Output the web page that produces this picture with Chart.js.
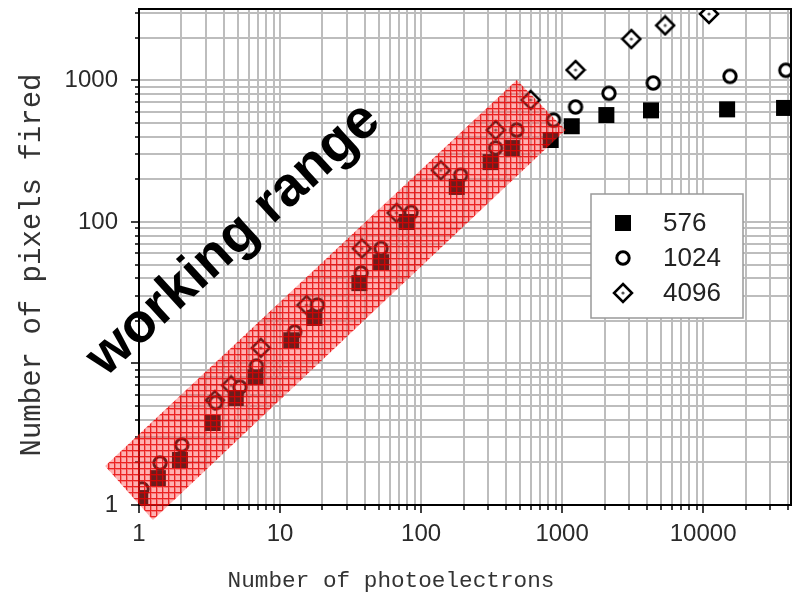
<!DOCTYPE html>
<html>
<head>
<meta charset="utf-8">
<script src="https://cdn.jsdelivr.net/npm/chart.js@4.4.1/dist/chart.umd.min.js"></script>
<style>
  html, body { margin: 0; padding: 0; background: #fff; }
</style>
</head>
<body>
<canvas id="chart" width="800" height="598"></canvas>
<script>
// Photoelectrons (x) vs pixels fired (y)
const x576 = [1.02, 1.36, 1.95, 3.33, 4.85, 6.7, 12.0, 17.5, 36.5, 52, 79, 179, 311, 440, 830, 1170, 2060, 4270, 14800, 37500];
const y576 = [1.12, 1.55, 2.08, 3.8, 5.7, 8.0, 14.6, 21, 37, 52, 100, 177, 265, 333, 380, 475, 570, 615, 625, 640];

const x1024 = [1.05, 1.41, 2.01, 3.5, 5.2, 6.8, 12.7, 18.4, 37.6, 52, 85, 191, 338, 477, 870, 1245, 2150, 4430, 15500, 38600];
const y1024 = [1.30, 1.98, 2.65, 5.3, 6.8, 9.6, 16.7, 25.9, 43.6, 65, 117, 214, 333, 446, 525, 650, 812, 960, 1070, 1180];

const x4096 = [3.45, 4.5, 7.3, 15.4, 38, 67, 138, 338, 598, 1245, 3100, 5380, 11000];
const y4096 = [5.5, 7.0, 12.9, 25.9, 65, 116, 232, 446, 728, 1186, 1964, 2450, 2950];

const seriesNames = ['576', '1024', '4096'];

// Axis ranges and labelled ticks
const xMin = 1, xMax = 42000;
const yMin = 1, yMax = 3200;
const xTickLabels = [1, 10, 100, 1000, 10000];
const yTickLabels = [1, 100, 1000];

// "working range" band corners (data coords) and label anchor
const bandX = [0.575, 1.256, 1059, 477];
const bandY = [1.886, 0.783, 447, 1009];
const labelX = 4.7, labelY = 75;

function logSteps(min, max) {
  const out = [];
  for (let d = 1; d <= max; d *= 10) {
    for (let m = 1; m < 10; m++) {
      const v = m * d;
      if (v >= min && v <= max) out.push(v);
    }
  }
  return out;
}

function makeMarker(kind) {
  const c = document.createElement('canvas');
  c.width = c.height = 22;
  const g = c.getContext('2d');
  g.translate(11, 11);
  if (kind === 'square') {
    g.fillStyle = '#000';
    g.fillRect(-8, -8, 16, 16);
  } else if (kind === 'circle') {
    g.beginPath();
    g.arc(0, 0, 6.2, 0, Math.PI * 2);
    g.fillStyle = '#fff';
    g.fill();
    g.lineWidth = 3;
    g.strokeStyle = '#000';
    g.stroke();
  } else {
    g.beginPath();
    g.moveTo(0, -9); g.lineTo(9, 0); g.lineTo(0, 9); g.lineTo(-9, 0);
    g.closePath();
    g.fillStyle = '#fff';
    g.fill();
    g.lineWidth = 2.5;
    g.strokeStyle = '#000';
    g.stroke();
    g.beginPath();
    g.arc(0, 0, 1.6, 0, Math.PI * 2);
    g.fillStyle = '#555';
    g.fill();
  }
  return c;
}

function makeHatch() {
  const c = document.createElement('canvas');
  c.width = c.height = 6;
  const g = c.getContext('2d');
  g.fillStyle = 'rgba(255,70,70,0.42)';
  g.fillRect(0, 0, 6, 6);
  g.fillStyle = 'rgba(230,0,0,0.8)';
  g.fillRect(0, 0, 6, 1);
  g.fillRect(0, 1, 1, 5);
  g.fillStyle = 'rgba(230,0,0,0.3)';
  g.fillRect(1, 1, 5, 1);
  g.fillRect(1, 2, 1, 4);
  return c;
}

const markers = [makeMarker('square'), makeMarker('circle'), makeMarker('diamond')];

function toPoints(xs, ys) {
  return xs.map((x, i) => ({ x, y: ys[i] }));
}

const overlay = {
  id: 'overlay',
  afterDatasetsDraw(chart) {
    const { ctx, chartArea: a, scales: { x, y } } = chart;
    ctx.save();

    // tick marks
    ctx.strokeStyle = '#000';
    ctx.lineWidth = 1.5;
    logSteps(xMin, xMax).forEach(v => {
      const px = Math.round(x.getPixelForValue(v));
      const len = xTickLabels.includes(v) ? 8 : 5;
      ctx.beginPath();
      ctx.moveTo(px, a.bottom);
      ctx.lineTo(px, a.bottom + len);
      ctx.stroke();
    });
    logSteps(yMin, yMax).forEach(v => {
      const py = Math.round(y.getPixelForValue(v));
      const len = [1, 10, 100, 1000].includes(v) ? 8 : 4;
      ctx.beginPath();
      ctx.moveTo(a.left, py);
      ctx.lineTo(a.left - len, py);
      ctx.stroke();
    });

    // frame
    ctx.lineWidth = 2;
    ctx.strokeRect(a.left, a.top, a.right - a.left, a.bottom - a.top);

    // working range band
    ctx.beginPath();
    bandX.forEach((bx, i) => {
      const px = x.getPixelForValue(bx);
      const py = y.getPixelForValue(bandY[i]);
      if (i === 0) ctx.moveTo(px, py); else ctx.lineTo(px, py);
    });
    ctx.closePath();
    ctx.fillStyle = ctx.createPattern(makeHatch(), 'repeat');
    ctx.fill();

    // band label
    ctx.save();
    ctx.translate(x.getPixelForValue(labelX), y.getPixelForValue(labelY));
    ctx.rotate(-42.5 * Math.PI / 180);
    ctx.font = 'bold 55px "Liberation Sans", Arial, sans-serif';
    ctx.fillStyle = '#000';
    ctx.textAlign = 'center';
    ctx.textBaseline = 'middle';
    ctx.fillText('working range', 0, 0);
    ctx.restore();

    // legend box
    const lx = 591, ly = 194, lw = 152, lh = 124;
    ctx.fillStyle = '#fff';
    ctx.fillRect(lx, ly, lw, lh);
    ctx.strokeStyle = '#999';
    ctx.lineWidth = 1.5;
    ctx.strokeRect(lx, ly, lw, lh);
    ctx.font = '26px "Liberation Sans", Arial, sans-serif';
    ctx.fillStyle = '#222';
    ctx.textAlign = 'left';
    ctx.textBaseline = 'middle';
    seriesNames.forEach((name, i) => {
      const cy = 223 + i * 35;
      const m = markers[i];
      ctx.drawImage(m, 623 - m.width / 2, cy - m.height / 2);
      ctx.fillText(name, 663, cy + 1);
    });

    // axis titles
    ctx.fillStyle = '#333';
    ctx.textAlign = 'center';
    ctx.font = '22.7px "Liberation Mono", "Courier New", monospace';
    ctx.fillText('Number of photoelectrons', 391, 581);
    ctx.save();
    ctx.translate(32, 265);
    ctx.rotate(-Math.PI / 2);
    ctx.font = '29px "Liberation Mono", "Courier New", monospace';
    ctx.fillText('Number of pixels fired', 0, 0);
    ctx.restore();

    ctx.restore();
  }
};

const tickFont = { family: '"Liberation Sans", Arial, sans-serif', size: 24 };

new Chart(document.getElementById('chart'), {
  type: 'scatter',
  data: {
    datasets: [
      { label: seriesNames[0], data: toPoints(x576, y576), pointStyle: markers[0], pointRadius: 8 },
      { label: seriesNames[1], data: toPoints(x1024, y1024), pointStyle: markers[1], pointRadius: 8 },
      { label: seriesNames[2], data: toPoints(x4096, y4096), pointStyle: markers[2], pointRadius: 8 }
    ]
  },
  options: {
    responsive: false,
    animation: false,
    layout: { padding: { left: 0, right: 7, top: 9, bottom: 0 } },
    plugins: { legend: { display: false }, tooltip: { enabled: false } },
    scales: {
      x: {
        type: 'logarithmic',
        min: xMin,
        max: xMax,
        afterBuildTicks: s => { s.ticks = logSteps(xMin, xMax).map(v => ({ value: v })); },
        afterFit: s => {
          s.height = 93;
          s.paddingLeft = s.paddingRight = s.paddingTop = s.paddingBottom = 0;
        },
        grid: { color: '#bdbdbd', lineWidth: 2, drawTicks: false },
        border: { display: false },
        ticks: {
          autoSkip: false,
          maxRotation: 0,
          padding: 15,
          color: '#2a2a2a',
          font: tickFont,
          callback: v => xTickLabels.includes(v) ? String(v) : ''
        }
      },
      y: {
        type: 'logarithmic',
        min: yMin,
        max: yMax,
        afterBuildTicks: s => { s.ticks = logSteps(yMin, yMax).map(v => ({ value: v })); },
        afterFit: s => {
          s.width = 139;
          s.paddingLeft = s.paddingRight = s.paddingTop = s.paddingBottom = 0;
        },
        grid: { color: '#bdbdbd', lineWidth: 2, drawTicks: false },
        border: { display: false },
        ticks: {
          autoSkip: false,
          padding: 21,
          color: '#2a2a2a',
          font: tickFont,
          callback: v => yTickLabels.includes(v) ? String(v) : ''
        }
      }
    }
  },
  plugins: [overlay]
});
</script>
</body>
</html>
